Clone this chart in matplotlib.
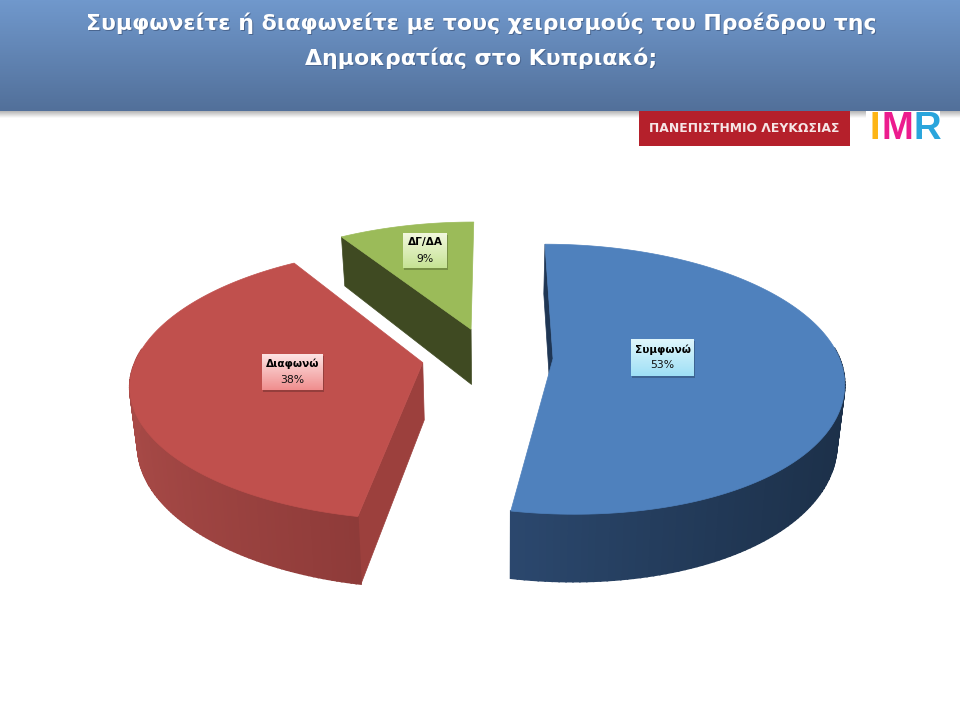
#!/usr/bin/env python3
"""Exploded perspective pie: Cyprus poll, agree/disagree with the President's handling."""
import matplotlib
matplotlib.use("Agg")
import matplotlib.pyplot as plt
from matplotlib.colors import LinearSegmentedColormap, to_rgb
from matplotlib.patches import Polygon, Rectangle
import numpy as np

TITLE_1 = "Συμφωνείτε ή διαφωνείτε με τους χειρισμούς του Προέδρου της"
TITLE_2 = "Δημοκρατίας στο Κυπριακό;"
CATEGORIES = ["Συμφωνώ", "Διαφωνώ", "ΔΓ/ΔΑ"]
VALUES = [53, 38, 9]
LOGO_TEXT = "ΠΑΝΕΠΙΣΤΗΜΙΟ ΛΕΥΚΩΣΙΑΣ"

# projection, in pixels of the 960x720 picture
X0, Y0 = 492, 372
RX, RY = 291, 136
PERSP = 0.155
DEPTH = 58
FRONT_SKEW = 13   # the original's front edge leans right a little
BOTTOM_SHRINK = 0.022  # lower rim is further from the camera

# per slice: explode offset (world x px, world y units), top, cut face, wall colours
SLICES = [
    dict(off=(62, 0.10), top="#4f81bd", face="#1f3654", wall=("#1c3049", "#3a5f92")),
    dict(off=(-70, 0.07), top="#c0504d", face="#9c403d", wall=("#742c2b", "#a84a47")),
    dict(off=(-22, 0.33), top="#9bbb59", face="#3f4a22", wall=("#3f4a22", "#3f4a22")),
]
LABEL_BOXES = [
    dict(box=(631, 339, 694, 376), cols=("#dff6fc", "#9fe0f6")),
    dict(box=(262, 354, 323, 390), cols=("#fde4e4", "#f08e8e")),
    dict(box=(403, 233, 447, 268), cols=("#f2f8de", "#c6e394")),
]


def project(wx, wy, lift=0.0):
    wx, wy = np.asarray(wx, float), np.asarray(wy, float)
    s = 1.0 / (1.0 + PERSP * wy)
    shrink = 1.0 - BOTTOM_SHRINK * (lift > 0)
    skew = FRONT_SKEW * np.minimum(wy, 0) ** 2
    return X0 + wx * s * shrink + skew, Y0 - RY * wy * s + lift * s


def gradient(ax, box, c0, c1, zorder):
    x0, y0, x1, y1 = box
    cmap = LinearSegmentedColormap.from_list("g", [c0, c1])
    ax.imshow(np.linspace(0, 1, 64).reshape(-1, 1), cmap=cmap, aspect="auto",
              extent=(x0, x1, y1, y0), zorder=zorder, interpolation="bilinear")


def draw_slice(ax, a0, a1, spec, z):
    ox, oy = spec["off"]
    th = np.radians(np.linspace(a0, a1, 160))
    wx = ox + RX * np.sin(th)
    wy = oy + np.cos(th)
    ax_, ay_ = project(ox, oy)
    bx_, by_ = project(ox, oy, DEPTH)
    tx, ty = project(wx, wy)
    lx, ly = project(wx, wy, DEPTH)

    # cut face along the first edge, the only one the camera sees
    ax.add_patch(Polygon([(ax_, ay_), (tx[0], ty[0]), (lx[0], ly[0]), (bx_, by_)],
                         fc=spec["face"], ec=spec["face"], lw=0.5, zorder=z))
    # outer wall, lit towards the left; the back half is out of sight
    c0, c1 = np.array(to_rgb(spec["wall"][0])), np.array(to_rgb(spec["wall"][1]))
    for i in range(len(th) - 1):
        if np.cos(th[i]) > 0.1:
            continue
        f = np.clip((1 - np.sin(th[i])) / 2, 0, 1) ** 1.3
        col = c0 + (c1 - c0) * f
        ax.add_patch(Polygon([(tx[i], ty[i]), (tx[i + 1], ty[i + 1]), (lx[i + 1], ly[i + 1]), (lx[i], ly[i])],
                             fc=col, ec=col, lw=1.2, zorder=z + 0.1))
    # top
    pts = [(ax_, ay_)] + list(zip(tx, ty))
    ax.add_patch(Polygon(pts, fc=spec["top"], ec=spec["top"], lw=0.5, zorder=z + 0.2))


fig = plt.figure(figsize=(9.6, 7.2), dpi=100)
ax = fig.add_axes([0, 0, 1, 1])
ax.set_xlim(0, 960)
ax.set_ylim(720, 0)
ax.axis("off")

# header band and its shadow
gradient(ax, (0, 0, 960, 111), "#7098cc", "#52709a", 1)
gradient(ax, (0, 111, 960, 118), "#b4b4b4", "#ffffff", 1)
for line, y in ((TITLE_1, 23), (TITLE_2, 58)):
    ax.text(482, y + 1, line, color="#4a6690", fontsize=15.85, fontweight="bold",
            ha="center", va="center", zorder=3)
    ax.text(481, y, line, color="white", fontsize=15.85, fontweight="bold",
            ha="center", va="center", zorder=4)

# logos
ax.add_patch(Rectangle((639, 111), 211, 35, fc="#b5202b", ec="none", zorder=5))
ax.text(744.5, 129, LOGO_TEXT, color="#f6e6e6", fontsize=8.9, fontweight="bold",
        ha="center", va="center", zorder=6)
ax.add_patch(Rectangle((866, 111), 74, 35, fc="white", ec="none", zorder=5))
for ch, x, col in (("I", 875, "#fdb515"), ("M", 897, "#ec1c8e"), ("R", 927, "#2aa5dc")):
    ax.text(x, 129, ch, color=col, fontsize=27.5, fontweight="bold", family="Liberation Sans",
            ha="center", va="center", zorder=6)

# slices: clockwise from 12 o'clock, painted back to front
angles = np.cumsum([0] + VALUES) / sum(VALUES) * 360
for i in (2, 1, 0):
    draw_slice(ax, angles[i], angles[i + 1], SLICES[i], 10 + i)

# data labels
for name, val, lab in zip(CATEGORIES, VALUES, LABEL_BOXES):
    x0, y0, x1, y1 = lab["box"]
    ax.add_patch(Rectangle((x0 + 1, y0 + 2), x1 - x0, y1 - y0, fc="#000000", alpha=0.22, ec="none", zorder=20))
    gradient(ax, lab["box"], lab["cols"][0], lab["cols"][1], 21)
    xm, ym = (x0 + x1) / 2, (y0 + y1) / 2
    ax.text(xm, ym - 8, name, fontsize=7.6, fontweight="bold", color="black", ha="center", va="center", zorder=22)
    ax.text(xm, ym + 8, f"{val}%", fontsize=7.8, color="#111111", ha="center", va="center", zorder=22)

ax.set_xlim(0, 960)
ax.set_ylim(720, 0)
fig.savefig("out.png", dpi=100)
